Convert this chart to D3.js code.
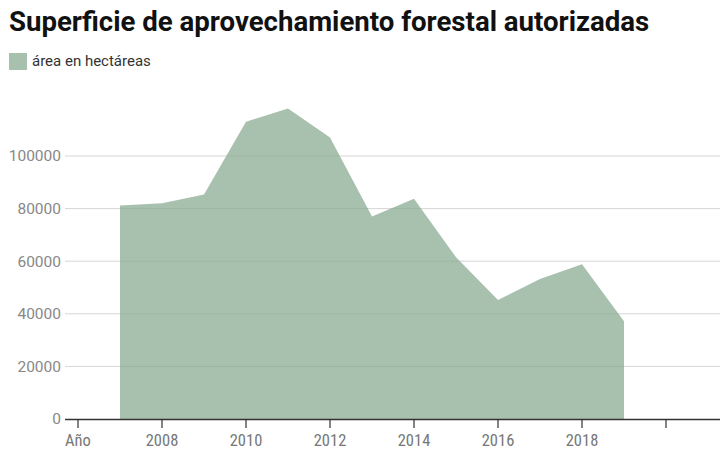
<!DOCTYPE html>
<html>
<head>
<meta charset="utf-8">
<script src="https://cdn.jsdelivr.net/npm/d3@7"></script>
<style>
  body { margin: 0; background: #fff; }
  .title { font-family: Roboto, sans-serif; font-weight: 700; font-size: 27.6px; fill: #111; }
  .legend { font-family: Roboto, sans-serif; font-size: 15px; fill: #333; }
  .ylab { font-family: Roboto, sans-serif; font-size: 15.5px; fill: #888; }
  .xlab { font-family: "Roboto Condensed", "Liberation Sans Narrow", Roboto, sans-serif; font-size: 16.5px; fill: #777; }
</style>
</head>
<body>
<div id="chart"></div>
<script>
// superficie autorizada, hectáreas por año
var years = [2007, 2008, 2009, 2010, 2011, 2012, 2013, 2014, 2015, 2016, 2017, 2018, 2019];
var area = [81200, 82000, 85400, 113000, 118100, 107000, 77000, 83700, 61500, 45200, 53200, 58800, 37200];
var yTicks = [0, 20000, 40000, 60000, 80000, 100000];
var xTicks = [2006, 2008, 2010, 2012, 2014, 2016, 2018, 2020];
var xTickLabels = ["Año", "2008", "2010", "2012", "2014", "2016", "2018", ""];

var svgWidth = 728;
var svgHeight = 469;

var svg = d3.select("#chart")
    .append("svg")
    .attr("width", svgWidth)
    .attr("height", svgHeight);

svg.append("text")
    .attr("class", "title")
    .attr("x", 9)
    .attr("y", 31)
    .text("Superficie de aprovechamiento forestal autorizadas");

// legend
svg.append("rect")
    .attr("x", 9)
    .attr("y", 53)
    .attr("width", 18)
    .attr("height", 17)
    .attr("fill", "#a8c1ae");

svg.append("text")
    .attr("class", "legend")
    .attr("x", 32)
    .attr("y", 66)
    .text("área en hectáreas");

var x = d3.scaleLinear()
    .domain([2006, 2020])
    .range([78, 666]);

var y = d3.scaleLinear()
    .domain([0, 100000])
    .range([419, 156]);

var left = 65, right = 720;

// gridlines
svg.selectAll(".grid")
    .data(yTicks.filter(d => d > 0))
    .enter()
    .append("line")
    .attr("x1", left)
    .attr("x2", right)
    .attr("y1", d => y(d))
    .attr("y2", d => y(d))
    .attr("stroke", "#d6d6d6")
    .attr("stroke-width", 1);

svg.selectAll(".ylab")
    .data(yTicks)
    .enter()
    .append("text")
    .attr("class", "ylab")
    .attr("x", 61)
    .attr("y", d => y(d))
    .attr("dy", "0.35em")
    .attr("text-anchor", "end")
    .text(d => d);

// area
var areaGen = d3.area()
    .x((d, i) => x(years[i]))
    .y0(y(0))
    .y1(d => y(d));

svg.append("path")
    .datum(area)
    .attr("d", areaGen)
    .attr("fill", "#86a78f")
    .attr("opacity", 0.72);

// x axis
svg.append("line")
    .attr("x1", left)
    .attr("x2", right)
    .attr("y1", y(0) + 0.5)
    .attr("y2", y(0) + 0.5)
    .attr("stroke", "#333")
    .attr("stroke-width", 1.5);

svg.selectAll(".xtick")
    .data(xTicks)
    .enter()
    .append("line")
    .attr("x1", d => x(d))
    .attr("x2", d => x(d))
    .attr("y1", y(0))
    .attr("y2", y(0) + 9)
    .attr("stroke", "#333")
    .attr("stroke-width", 1.2);

svg.selectAll(".xlab")
    .data(xTicks)
    .enter()
    .append("text")
    .attr("class", "xlab")
    .attr("x", d => x(d))
    .attr("y", 446)
    .attr("text-anchor", "middle")
    .text((d, i) => xTickLabels[i]);
</script>
</body>
</html>
